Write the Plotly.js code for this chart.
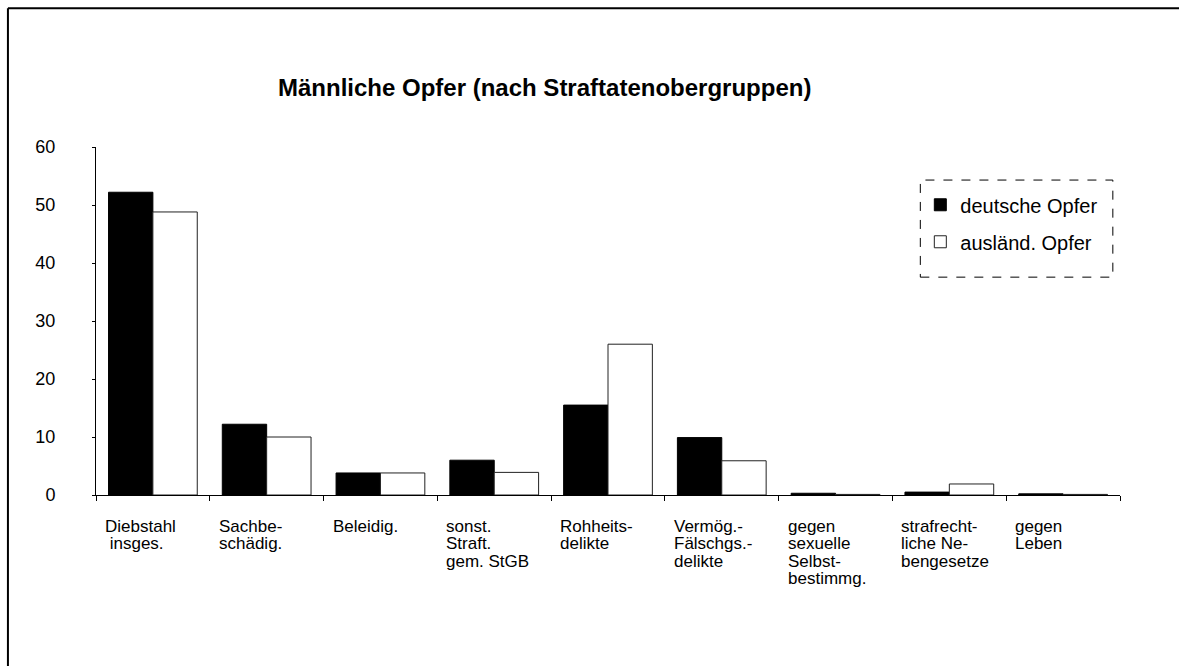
<!DOCTYPE html>
<html>
<head>
<meta charset="utf-8">
<script src="https://cdn.plot.ly/plotly-3.0.1.min.js"></script>
<style>
  html, body { margin: 0; padding: 0; background: #fff; }
  #chart { width: 1179px; height: 666px; }
</style>
</head>
<body>
<div id="chart"></div>
<script>
// ---- data ----
const categories = [
  "Diebstahl insges.",
  "Sachbeschädig.",
  "Beleidig.",
  "sonst. Straft. gem. StGB",
  "Rohheitsdelikte",
  "Vermög.-Fälschgs.-delikte",
  "gegen sexuelle Selbstbestimmg.",
  "strafrechtliche Nebengesetze",
  "gegen Leben"
];
const categoryLabelLines = [
  ["Diebstahl", " insges."],
  ["Sachbe-", "schädig."],
  ["Beleidig."],
  ["sonst.", "Straft.", "gem. StGB"],
  ["Rohheits-", "delikte"],
  ["Vermög.-", "Fälschgs.-", "delikte"],
  ["gegen", "sexuelle", "Selbst-", "bestimmg."],
  ["strafrecht-", "liche Ne-", "bengesetze"],
  ["gegen", "Leben"]
];
const seriesNames = ["deutsche Opfer", "ausländ. Opfer"];
const deutscheOpfer = [52.2, 12.2, 3.8, 6.0, 15.5, 9.9, 0.3, 0.5, 0.2];
const auslaendOpfer = [48.8, 10.0, 3.8, 3.9, 26.0, 5.9, 0.1, 1.9, 0.1];
const yTickVals = [0, 10, 20, 30, 40, 50, 60];
const titleText = "Männliche Opfer (nach Straftatenobergruppen)";

// ---- chart ----
const FONT = "Liberation Sans, Arial, Helvetica, sans-serif";
const LABEL_SIZE = 17;
const LINE_STEP = 17.5;

const traces = [
  {
    type: "bar",
    name: seriesNames[0],
    legendgroup: "g1",
    x: categories,
    y: deutscheOpfer,
    marker: { color: "#000000", line: { color: "#000000", width: 1 } },
    hoverinfo: "x+y+name"
  },
  {
    type: "bar",
    name: seriesNames[1],
    legendgroup: "g2",
    x: categories,
    y: auslaendOpfer,
    marker: { color: "#ffffff", line: { color: "#222222", width: 1 } },
    hoverinfo: "x+y+name"
  }
];

const annotations = [];
categoryLabelLines.forEach((lines, i) => {
  lines.forEach((line, k) => {
    annotations.push({
      x: i - 0.5,
      xref: "x",
      xshift: 7,
      xanchor: "left",
      y: -0.057,
      yref: "paper",
      yanchor: "top",
      yshift: -k * LINE_STEP,
      text: line,
      align: "left",
      showarrow: false,
      font: { family: FONT, size: LABEL_SIZE, color: "#000" }
    });
  });
});

const layout = {
  width: 1179,
  height: 666,
  margin: { l: 96, r: 59, t: 147, b: 171, pad: 0 },
  paper_bgcolor: "#ffffff",
  plot_bgcolor: "#ffffff",
  font: { family: FONT, size: 18, color: "#000" },
  title: {
    text: titleText,
    font: { family: FONT, size: 24, weight: "bold", color: "#000" },
    x: 0.462,
    xanchor: "center",
    xref: "container",
    y: 0.868,
    yanchor: "middle",
    yref: "container"
  },
  barmode: "group",
  bargap: 0.22,
  bargroupgap: 0,
  showlegend: true,
  legend: {
    x: 0.805,
    xanchor: "left",
    y: 0.89,
    yanchor: "top",
    bgcolor: "rgba(0,0,0,0)",
    borderwidth: 0,
    font: { family: FONT, size: 20, color: "#000" },
    tracegroupgap: 8,
    itemwidth: 30
  },
  xaxis: {
    type: "category",
    range: [-0.5, categories.length - 0.5],
    showline: true,
    linecolor: "#000",
    linewidth: 1,
    ticks: "outside",
    tickson: "boundaries",
    ticklen: 5,
    tickcolor: "#000",
    showticklabels: false,
    showgrid: false,
    zeroline: false
  },
  yaxis: {
    range: [0, 60],
    tickvals: yTickVals,
    ticktext: yTickVals.map(String),
    showline: true,
    linecolor: "#000",
    linewidth: 1,
    ticks: "outside",
    ticklen: 3,
    tickcolor: "#000",
    ticklabelstandoff: 33,
    tickfont: { family: FONT, size: 18, color: "#000" },
    showgrid: false,
    zeroline: false
  },
  annotations: annotations,
  shapes: [
    { type: "line", xref: "paper", yref: "paper",
      x0: -0.086, x1: 1.06, y0: 1.399, y1: 1.399,
      line: { color: "#000", width: 2 } },
    { type: "line", xref: "paper", yref: "paper",
      x0: -0.086, x1: -0.086, y0: 1.399, y1: -0.5,
      line: { color: "#000", width: 2 } },
    { type: "rect", xref: "paper", yref: "paper",
      x0: 0.805, x1: 0.993, y0: 0.626, y1: 0.905,
      line: { color: "#000", width: 1, dash: "dash" },
      fillcolor: "rgba(0,0,0,0)" }
  ]
};

Plotly.newPlot("chart", traces, layout, { displayModeBar: false, responsive: false });
</script>
</body>
</html>
